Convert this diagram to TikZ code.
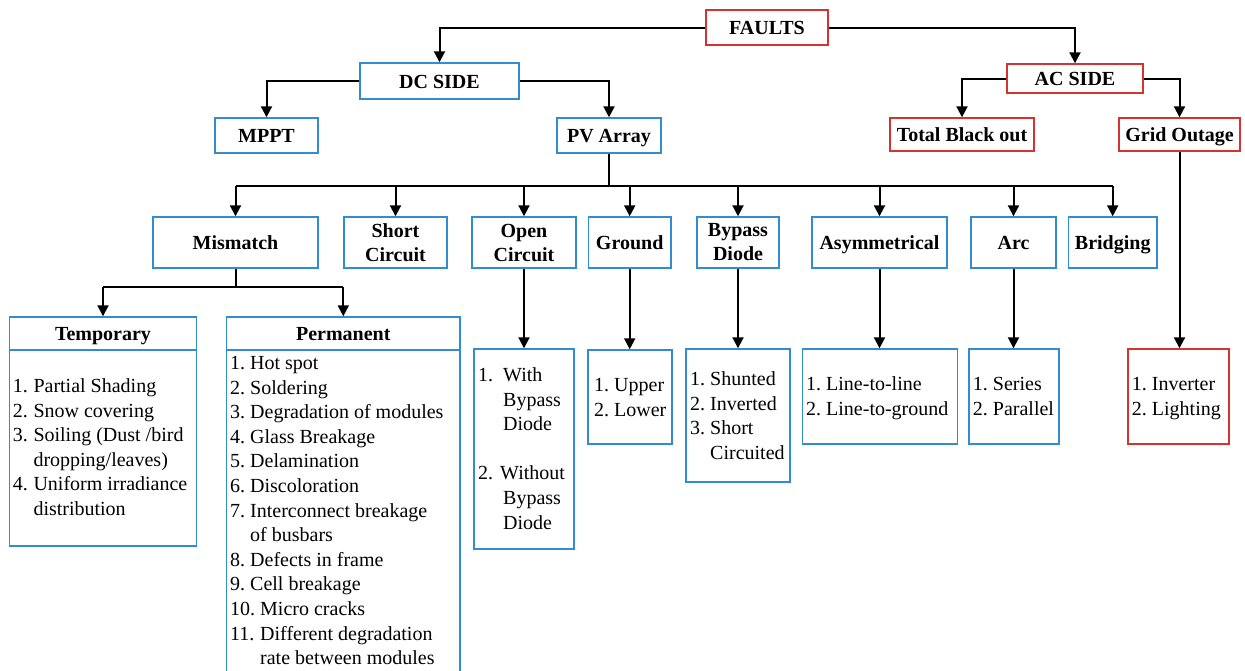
\documentclass[tikz,border=0pt]{standalone}
\usepackage{fontspec}
\setmainfont{Liberation Serif}
\usetikzlibrary{arrows.meta}
\definecolor{boxblue}{RGB}{50,140,212}
\definecolor{boxred}{RGB}{214,50,50}
\begin{document}
\begin{tikzpicture}[x=1pt,y=-1pt,
  every node/.style={font=\fontsize{20}{24.6}\selectfont},
  bbox/.style={draw=boxblue, line width=1.4pt, fill=white, inner sep=0pt,
    align=center, font=\fontsize{20}{24}\selectfont\bfseries},
  rbox/.style={bbox, draw=boxred},
  oneline/.style={text height=14pt, text depth=0pt},
  head/.style={inner sep=0pt, anchor=base, font=\fontsize{20}{24}\selectfont\bfseries},
  listtext/.style={inner sep=0pt, anchor=base west, font=\fontsize{20}{24.6}\selectfont},
  conn/.style={line width=2pt, -{Triangle[width=11pt,length=11pt]}},
  wire/.style={line width=2pt},
]
\useasboundingbox (0,0) rectangle (1245,670);
\clip (0,0) rectangle (1245,670);

% ---- top levels
\node[rbox, oneline, minimum width=122pt, minimum height=35pt] (faults) at (767,27.5) {FAULTS};
\node[bbox, oneline, minimum width=159pt, minimum height=36pt] (dc) at (439.5,81) {DC SIDE};
\node[rbox, oneline, minimum width=136pt, minimum height=29pt] (ac) at (1075,78.5) {AC SIDE};
\node[bbox, oneline, minimum width=103pt, minimum height=35pt] (mppt) at (266.5,135.5) {MPPT};
\node[bbox, oneline, minimum width=104pt, minimum height=35pt] (pv) at (609,135.5) {PV Array};
\node[rbox, oneline, minimum width=144pt, minimum height=33pt] (tbo) at (962,134.5) {Total Black out};
\node[rbox, oneline, minimum width=121pt, minimum height=33pt] (grid) at (1179.5,134.5) {Grid Outage};

% ---- fault types of the PV array
\begin{scope}[every node/.append style={minimum height=51pt}]
\node[bbox, oneline, minimum width=165pt] (mis) at (235.5,242.5) {Mismatch};
\node[bbox, minimum width=103pt] (sc) at (395.5,242.5) {Short\\Circuit};
\node[bbox, minimum width=104pt] (oc) at (524,242.5) {Open\\Circuit};
\node[bbox, oneline, minimum width=82.5pt] (gnd) at (629.7,242.5) {Ground};
\node[bbox, minimum width=82pt] (bp) at (738,242.5) {Bypass\\Diode};
\node[bbox, oneline, minimum width=135pt] (asy) at (879.5,242.5) {Asymmetrical};
\node[bbox, oneline, minimum width=85pt] (arc) at (1013.5,242.5) {Arc};
\node[bbox, oneline, minimum width=88.5pt] (brg) at (1112.7,242.5) {Bridging};
\end{scope}

% ---- detail boxes
\node[bbox, minimum width=187.4pt, minimum height=229pt] (temp) at (103,431.5) {};
\node[bbox, minimum width=233.3pt, minimum height=373pt] (perm) at (343.3,503.5) {};
\node[bbox, minimum width=100pt, minimum height=200pt] (ocl) at (524,449) {};
\node[bbox, minimum width=84pt, minimum height=94pt] (gndl) at (630,397) {};
\node[bbox, minimum width=104pt, minimum height=133pt] (bpl) at (738,415.5) {};
\node[bbox, minimum width=155pt, minimum height=95pt] (asyl) at (880.2,396.5) {};
\node[bbox, minimum width=90pt, minimum height=95pt] (arcl) at (1014,396.5) {};
\node[rbox, minimum width=101pt, minimum height=95pt] (invl) at (1178.5,396.5) {};

% header rules of the two mismatch boxes
\draw[boxblue, line width=1.4pt] (temp.west |- 0,350) -- (temp.east |- 0,350);
\draw[boxblue, line width=1.4pt] (perm.west |- 0,350) -- (perm.east |- 0,350);
\node[head] (temph) at (103,340.5) {Temporary};
\node[head] (permh) at (343.3,340.5) {Permanent};

% ---- list texts
\node[listtext] (templ) at (12.7,392.5) {\begin{tabular}[t]{@{}l@{}}
\makebox[20.6pt][l]{1.}Partial Shading\\
\makebox[20.6pt][l]{2.}Snow covering\\
\makebox[20.6pt][l]{3.}Soiling (Dust /bird\\
\hspace*{20.6pt}dropping/leaves)\\
\makebox[20.6pt][l]{4.}Uniform irradiance\\
\hspace*{20.6pt}distribution
\end{tabular}};

\node[listtext] (perml) at (230,369.5) {\begin{tabular}[t]{@{}l@{}}
\makebox[20pt][l]{1.}Hot spot\\
\makebox[20pt][l]{2.}Soldering\\
\makebox[20pt][l]{3.}Degradation of modules\\
\makebox[20pt][l]{4.}Glass Breakage\\
\makebox[20pt][l]{5.}Delamination\\
\makebox[20pt][l]{6.}Discoloration\\
\makebox[20pt][l]{7.}Interconnect breakage\\
\hspace*{20pt}of busbars\\
\makebox[20pt][l]{8.}Defects in frame\\
\makebox[20pt][l]{9.}Cell breakage\\
\makebox[30pt][l]{10.}Micro cracks\\
\makebox[30pt][l]{11.}Different degradation\\
\hspace*{30pt}rate between modules
\end{tabular}};

\node[listtext] (octxt) at (478,381.5) {\begin{tabular}[t]{@{}l@{}}
\makebox[25pt][l]{1.}With\\
\hspace*{25pt}Bypass\\
\hspace*{25pt}Diode\\
\\
\makebox[22pt][l]{2.}Without\\
\hspace*{25pt}Bypass\\
\hspace*{25pt}Diode
\end{tabular}};

\node[listtext] (gndtxt) at (594,391.5) {\begin{tabular}[t]{@{}l@{}}
\makebox[20pt][l]{1.}Upper\\
\makebox[20pt][l]{2.}Lower
\end{tabular}};

\node[listtext] (bptxt) at (690,385.5) {\begin{tabular}[t]{@{}l@{}}
\makebox[20pt][l]{1.}Shunted\\
\makebox[20pt][l]{2.}Inverted\\
\makebox[20pt][l]{3.}Short\\
\hspace*{20pt}Circuited
\end{tabular}};

\node[listtext] (asytxt) at (806,390.5) {\begin{tabular}[t]{@{}l@{}}
\makebox[20pt][l]{1.}Line-to-line\\
\makebox[20pt][l]{2.}Line-to-ground
\end{tabular}};

\node[listtext] (arctxt) at (972.7,390.5) {\begin{tabular}[t]{@{}l@{}}
\makebox[20pt][l]{1.}Series\\
\makebox[20pt][l]{2.}Parallel
\end{tabular}};

\node[listtext] (invtxt) at (1131.7,390.5) {\begin{tabular}[t]{@{}l@{}}
\makebox[20pt][l]{1.}Inverter\\
\makebox[20pt][l]{2.}Lighting
\end{tabular}};

% ---- connectors
\draw[conn] (faults.west) -| (dc.north);
\draw[conn] (faults.east) -| (ac.north);
\draw[conn] (dc.west) -| (mppt.north);
\draw[conn] (dc.east) -| (pv.north);
\draw[conn] (ac.west) -| (tbo.north);
\draw[conn] (ac.east) -| (grid.north);
\draw[conn] (grid.south) -- (grid.south |- invl.north);

% bus under the PV array
\coordinate (bus) at (609,186);
\draw[wire] (pv.south) -- (bus);
\draw[wire] (mis.north |- bus) -- (brg.north |- bus);
\foreach \n in {mis,sc,oc,gnd,bp,asy,arc,brg}
  \draw[conn] (\n.north |- bus) -- (\n.north);

% mismatch split
\coordinate (mbus) at (235.5,287);
\draw[wire] (mis.south) -- (mbus);
\draw[wire] (temp.north |- mbus) -- (perm.north |- mbus);
\draw[conn] (temp.north |- mbus) -- (temp.north);
\draw[conn] (perm.north |- mbus) -- (perm.north);

% type boxes to their lists
\draw[conn] (oc.south) -- (oc.south |- ocl.north);
\draw[conn] (gnd.south) -- (gnd.south |- gndl.north);
\draw[conn] (bp.south) -- (bp.south |- bpl.north);
\draw[conn] (asy.south) -- (asy.south |- asyl.north);
\draw[conn] (arc.south) -- (arc.south |- arcl.north);
\end{tikzpicture}
\end{document}
